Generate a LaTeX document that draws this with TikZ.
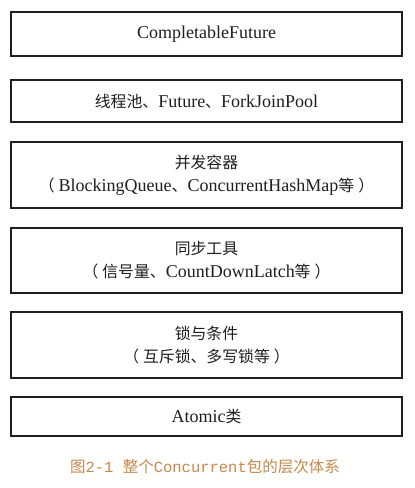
\documentclass[tikz,border=0pt]{standalone}
\usepackage{fontspec}
\setmainfont{Liberation Serif}
\setmonofont{Liberation Mono}
\newfontfamily\cjk[Scale=0.88]{Noto Sans CJK SC}
\newfontfamily\cjkcap{Noto Sans CJK SC}
\definecolor{ink}{HTML}{1E1E1E}
\definecolor{capcol}{HTML}{C8874A}
\newcommand{\lp}{{\cjk （}\hspace{4pt}}
\newcommand{\rp}{\hspace{4pt}{\cjk ）}}
\tikzset{
  layer/.style={draw=ink, line width=1.3pt, rectangle, minimum width=391pt,
    align=center, text=ink, inner sep=0pt, font=\fontsize{18}{23}\selectfont},
  caption/.style={text=capcol, inner sep=0pt, font=\fontsize{15.5}{18}\selectfont}
}
\begin{document}
\begin{tikzpicture}[x=1pt,y=-1pt]
\useasboundingbox (0,0) rectangle (415,488);
\node[layer, minimum height=44pt] (b1) at (206.5,34) {CompletableFuture};
\node[layer, minimum height=42pt] (b2) at (206.5,101) {{\cjk 线程池、}Future{\cjk 、}ForkJoinPool};
\node[layer, minimum height=66pt] (b3) at (206.5,175) {{\cjk 并发容器}\\\lp BlockingQueue{\cjk 、}ConcurrentHashMap{\cjk 等}\rp};
\node[layer, minimum height=65pt] (b4) at (206.5,260.5) {{\cjk 同步工具}\\\lp{\cjk 信号量、}CountDownLatch{\cjk 等}\rp};
\node[layer, minimum height=66pt] (b5) at (206.5,345) {{\cjk 锁与条件}\\\lp{\cjk 互斥锁、多写锁等}\rp};
\node[layer, minimum height=39pt] (b6) at (206.5,416.5) {Atomic{\cjk 类}};
\node[caption] (cap) at (205,467) {{\cjkcap 图}\texttt{2-1 }{\cjkcap 整个}\texttt{Concurrent}{\cjkcap 包的层次体系}};
\end{tikzpicture}
\end{document}
